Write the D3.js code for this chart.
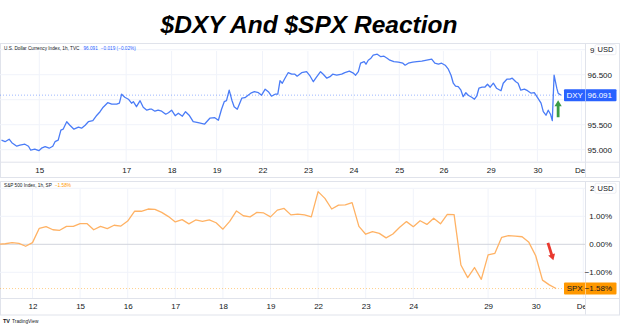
<!DOCTYPE html>
<html>
<head>
<meta charset="utf-8">
<script src="https://cdn.jsdelivr.net/npm/d3@7"></script>
<style>
  html, body { margin: 0; padding: 0; background: #fff; }
  svg { display: block; font-family: "Liberation Sans", Arial, sans-serif; }
</style>
</head>
<body>
<svg id="chart" width="620" height="327"></svg>
<script>
// ---- DXY, hourly (position in trading days since the 15th) ----
const dxyDays = [-0.84,-0.76,-0.67,-0.61,-0.50,-0.43,-0.32,-0.24,-0.19,-0.10,
  -0.01,0.05,0.13,0.22,0.30,0.35,0.42,0.48,0.53,0.61,
  0.68,0.77,0.87,0.94,1.02,1.09,1.19,1.28,1.35,1.42,
  1.52,1.61,1.72,1.78,1.83,1.90,1.98,2.05,2.09,2.16,
  2.24,2.31,2.39,2.46,2.50,2.57,2.64,2.72,2.81,2.87,
  2.94,3.02,3.09,3.18,3.25,3.33,3.42,3.53,3.67,3.72,
  3.79,3.90,3.98,4.05,4.11,4.16,4.22,4.28,4.33,4.40,
  4.50,4.57,4.64,4.70,4.78,4.87,4.94,5.02,5.09,5.16,
  5.24,5.30,5.35,5.40,5.46,5.53,5.61,5.68,5.73,5.83,
  5.94,6.02,6.09,6.16,6.25,6.31,6.39,6.46,6.52,6.61,
  6.72,6.79,6.89,6.98,7.03,7.09,7.14,7.22,7.26,7.31,
  7.37,7.42,7.51,7.59,7.66,7.73,7.79,7.88,7.98,8.08,
  8.13,8.20,8.30,8.39,8.50,8.61,8.72,8.79,8.87,8.94,
  9.02,9.09,9.15,9.20,9.25,9.31,9.37,9.42,9.48,9.53,
  9.61,9.67,9.72,9.77,9.84,9.90,9.96,10.02,10.09,10.16,
  10.26,10.31,10.39,10.46,10.51,10.59,10.64,10.70,10.78,10.85,
  10.93,11.00,11.08,11.15,11.20,11.26,11.31,11.36,11.40,11.44,
  11.50,11.53,11.59];
const dxyValues = [95.19,95.16,95.21,95.14,95.07,95.09,95.11,95.07,94.99,95.01,
  94.98,95.03,95.06,95.03,95.07,95.16,95.19,95.39,95.41,95.56,
  95.49,95.41,95.45,95.43,95.49,95.56,95.58,95.69,95.76,95.85,
  95.94,95.91,95.91,95.93,96.11,96.05,96.01,95.93,95.96,95.86,
  95.98,95.85,95.79,95.81,95.81,95.77,95.79,95.77,95.71,95.74,
  95.79,95.68,95.73,95.67,95.76,95.69,95.56,95.54,95.51,95.56,
  95.63,95.64,95.59,95.81,95.96,95.98,96.19,95.99,95.86,95.81,
  96.03,96.04,96.09,96.13,96.16,96.14,96.09,96.21,96.16,96.07,
  96.11,96.11,96.38,96.33,96.43,96.54,96.51,96.51,96.47,96.54,
  96.56,96.47,96.36,96.45,96.56,96.51,96.43,96.46,96.51,96.49,
  96.51,96.54,96.57,96.53,96.49,96.56,96.73,96.76,96.71,96.79,
  96.83,96.89,96.91,96.86,96.87,96.83,96.79,96.76,96.75,96.73,
  96.69,96.73,96.75,96.76,96.77,96.79,96.81,96.73,96.71,96.73,
  96.69,96.61,96.49,96.33,96.27,96.26,96.19,96.06,96.14,96.09,
  96.05,96.01,96.07,96.23,96.25,96.25,96.31,96.25,96.33,96.23,
  96.18,96.33,96.41,96.41,96.43,96.36,96.33,96.19,96.21,96.18,
  96.13,96.14,96.03,95.93,95.76,95.69,95.79,95.71,95.58,96.49,
  96.23,96.13,96.091];
const dxyTickDays = [0, 1.93, 2.94, 3.94, 4.96, 5.97, 6.98, 8.0, 8.98, 10.03, 11.07, 12.05];
const dxyTickLabels = ["15","17","18","19","22","23","24","25","26","29","30","Dec"];
const dxyPriceTicks = [95, 95.5, 96, 96.5, 97];
const dxyLast = 96.091;

// ---- SPX, hourly bars (bar 0 = first bar of the 12th), % change ----
const spxFirstBar = -5;
const spxValues = [0.00,0.02,0.06,0.03,-0.07,0.06,0.57,0.63,0.52,0.50,
  0.64,0.64,0.74,0.74,0.52,0.64,0.56,0.68,0.65,0.83,
  1.18,1.18,1.26,1.25,1.14,0.99,0.80,0.88,0.73,0.87,
  0.82,0.87,0.77,0.54,0.82,1.19,1.02,0.98,1.14,1.12,
  0.98,1.22,1.28,1.05,1.08,1.05,0.98,1.88,1.64,1.26,
  1.40,1.41,1.49,0.64,0.36,0.45,0.39,0.23,0.37,0.61,
  0.81,0.63,0.84,0.71,0.93,0.73,1.07,1.06,-0.74,-1.19,
  -0.83,-1.25,-0.38,-0.32,0.25,0.31,0.29,0.27,0.07,-0.41,
  -1.28,-1.45,-1.58];
const spxTickBars = [0, 7, 14, 21, 28, 35, 42, 49, 56, 67, 74, 81];
const spxTickLabels = ["12","15","16","17","18","19","22","23","24","29","30","Dec"];
const spxPctTicks = [-1, 0, 1, 2];
const spxLast = -1.58;

// ---- layout ----
const svg = d3.select("#chart");
const axisX = 585;
const paneA = { top: 43, plotBottom: 161.7, bottom: 177, labelY: 170 };
const paneB = { top: 181, plotBottom: 298, bottom: 314.5, labelY: 305.7 };
const blue = "#2962ff", lineBlue = "#4a7cf7";
const orange = "#ff9800", lineOrange = "#ffb264";
const grid = "#f0f3fa", border = "#e0e3eb", ink = "#131722";

const xDxy = d3.scaleLinear().domain([-0.873, 12.127]).range([0, axisX]);
const yDxy = d3.scaleLinear().domain([95, 97]).range([149.7, 49.7]);
const xSpx = d3.scaleLinear().domain([-32.5 / 6.8, (axisX - 32.5) / 6.8]).range([0, axisX]);
const ySpx = d3.scaleLinear().domain([-1, 2]).range([272.3, 188.3]);

svg.append("rect").attr("width", 620).attr("height", 327).attr("fill", "#fff");

// title
svg.append("text")
  .attr("x", 309).attr("y", 33)
  .attr("text-anchor", "middle")
  .attr("font-size", 24.5).attr("font-weight", "bold").attr("font-style", "italic")
  .attr("fill", "#000")
  .text("$DXY And $SPX Reaction");

const defs = svg.append("defs");
defs.append("clipPath").attr("id", "clipA").append("rect")
  .attr("x", 0).attr("y", paneA.top).attr("width", axisX).attr("height", paneA.plotBottom - paneA.top);
defs.append("clipPath").attr("id", "clipB").append("rect")
  .attr("x", 0).attr("y", paneB.top).attr("width", axisX).attr("height", paneB.plotBottom - paneB.top);
defs.append("clipPath").attr("id", "clipTime").append("rect")
  .attr("x", 0).attr("y", -20).attr("width", axisX).attr("height", 40);

function paneFrame(p) {
  const g = svg.append("g");
  g.append("rect").attr("x", 0.5).attr("y", p.top + 0.5)
    .attr("width", 619).attr("height", p.bottom - p.top)
    .attr("fill", "none").attr("stroke", border);
  g.append("line").attr("x1", 0).attr("x2", 620).attr("y1", p.plotBottom + 0.5).attr("y2", p.plotBottom + 0.5)
    .attr("stroke", border);
  g.append("line").attr("x1", axisX + 0.5).attr("x2", axisX + 0.5).attr("y1", p.top).attr("y2", p.bottom)
    .attr("stroke", border);
}

function timeAxis(scale, values, labels, y) {
  const ax = svg.append("g").attr("transform", `translate(0,${y})`)
    .attr("clip-path", "url(#clipTime)")
    .call(d3.axisBottom(scale).tickValues(values).tickFormat((d, i) => labels[i]).tickSize(0));
  ax.select(".domain").remove();
  ax.selectAll("text").attr("y", 0).attr("dy", "0.35em")
    .attr("font-size", 8).attr("fill", ink).attr("font-family", "Liberation Sans, Arial, sans-serif");
}

// price scale labels; the top one sits partly under the currency badge and the
// one nearest the last-value label is hidden by it
function priceAxis(scale, values, fmt, hiddenValue, badgeValue) {
  const shown = values.filter(v => v !== hiddenValue);
  const ax = svg.append("g").attr("transform", "translate(612,0)")
    .call(d3.axisLeft(scale).tickValues(shown)
      .tickFormat(d => d === badgeValue ? fmt(d).charAt(0) : fmt(d))
      .tickSize(0).tickPadding(0));
  ax.select(".domain").remove();
  ax.selectAll("text").attr("font-size", 8).attr("fill", ink).attr("font-family", "Liberation Sans, Arial, sans-serif");
  ax.selectAll(".tick").filter(d => d === badgeValue).select("text")
    .attr("text-anchor", "start").attr("x", -22);
}

function currencyBadge(yPos) {
  const g = svg.append("g");
  g.append("rect").attr("x", 595).attr("y", yPos - 5).attr("width", 21).attr("height", 10)
    .attr("rx", 1.5).attr("fill", "#fff").attr("stroke", border).attr("stroke-width", 0.6);
  g.append("text").attr("x", 605.5).attr("y", yPos).attr("dy", "0.35em").attr("text-anchor", "middle")
    .attr("font-size", 7.5).attr("fill", ink).text("USD");
}

function lastLabel(yPos, name, value, bg, fg) {
  const g = svg.append("g");
  g.append("rect").attr("x", 564).attr("y", yPos - 6).attr("width", 52.5).attr("height", 12)
    .attr("rx", 1).attr("fill", bg);
  g.append("line").attr("x1", 585.5).attr("x2", 585.5).attr("y1", yPos - 6).attr("y2", yPos + 6)
    .attr("stroke", "#fff").attr("stroke-opacity", 0.5);
  g.append("text").attr("x", 574.7).attr("y", yPos).attr("dy", "0.35em").attr("text-anchor", "middle")
    .attr("font-size", 8).attr("fill", fg).text(name);
  g.append("text").attr("x", 612).attr("y", yPos).attr("dy", "0.35em").attr("text-anchor", "end")
    .attr("font-size", 8).attr("fill", fg).text(value);
}

// ---------- DXY pane ----------
paneFrame(paneA);
const gA = svg.append("g");
gA.selectAll("line.vg").data(dxyTickDays).join("line")
  .attr("x1", d => xDxy(d)).attr("x2", d => xDxy(d))
  .attr("y1", paneA.top + 8).attr("y2", paneA.plotBottom)
  .attr("stroke", grid);
gA.selectAll("line.hg").data(dxyPriceTicks).join("line")
  .attr("x1", 0).attr("x2", axisX)
  .attr("y1", d => yDxy(d)).attr("y2", d => yDxy(d))
  .attr("stroke", grid);

const dxyPts = dxyDays.map((d, i) => [d, dxyValues[i]]);
gA.append("line")
  .attr("x1", 0).attr("x2", axisX)
  .attr("y1", yDxy(dxyLast)).attr("y2", yDxy(dxyLast))
  .attr("stroke", blue).attr("stroke-opacity", 0.45).attr("stroke-dasharray", "1,2");
gA.append("path")
  .attr("clip-path", "url(#clipA)")
  .attr("d", d3.line().x(d => xDxy(d[0])).y(d => yDxy(d[1]))(dxyPts))
  .attr("fill", "none").attr("stroke", lineBlue).attr("stroke-width", 1.3)
  .attr("stroke-linejoin", "round");

timeAxis(xDxy, dxyTickDays, dxyTickLabels, paneA.labelY);
priceAxis(yDxy, dxyPriceTicks, d3.format(".3f"), 96, 97);
currencyBadge(yDxy(97));
lastLabel(yDxy(dxyLast), "DXY", d3.format(".3f")(dxyLast), blue, "#fff");

const hA = svg.append("text").attr("x", 4).attr("y", 48.5).attr("dy", "0.35em").attr("font-size", 4.7);
hA.append("tspan").attr("fill", ink).text("U.S. Dollar Currency Index, 1h, TVC");
hA.append("tspan").attr("fill", blue).attr("dx", 4).text(d3.format(".3f")(dxyLast));
hA.append("tspan").attr("fill", blue).attr("dx", 3).text("\u22120.019 (\u22120.02%)");

// ---------- SPX pane ----------
paneFrame(paneB);
const gB = svg.append("g");
gB.selectAll("line.vg").data(spxTickBars).join("line")
  .attr("x1", d => xSpx(d)).attr("x2", d => xSpx(d))
  .attr("y1", paneB.top + 8).attr("y2", paneB.plotBottom)
  .attr("stroke", grid);
gB.selectAll("line.hg").data(spxPctTicks.filter(d => d !== 0)).join("line")
  .attr("x1", 0).attr("x2", axisX)
  .attr("y1", d => ySpx(d)).attr("y2", d => ySpx(d))
  .attr("stroke", grid);
gB.append("line").attr("x1", 0).attr("x2", axisX)
  .attr("y1", ySpx(0)).attr("y2", ySpx(0))
  .attr("stroke", "#d1d4dc").attr("stroke-width", 1);
gB.append("line").attr("x1", 0).attr("x2", axisX)
  .attr("y1", ySpx(spxLast)).attr("y2", ySpx(spxLast))
  .attr("stroke", orange).attr("stroke-opacity", 0.45).attr("stroke-dasharray", "1,2");

const spxPts = spxValues.map((v, i) => [spxFirstBar + i, v]);
gB.append("path")
  .attr("clip-path", "url(#clipB)")
  .attr("d", d3.line().x(d => xSpx(d[0])).y(d => ySpx(d[1]))(spxPts))
  .attr("fill", "none").attr("stroke", lineOrange).attr("stroke-width", 1.3)
  .attr("stroke-linejoin", "round");

const pctFmt = d => (d < 0 ? "\u2212" : "") + d3.format(".2f")(Math.abs(d)) + "%";
timeAxis(xSpx, spxTickBars, spxTickLabels, paneB.labelY);
priceAxis(ySpx, spxPctTicks, pctFmt, null, 2);
currencyBadge(ySpx(2));
lastLabel(ySpx(spxLast), "SPX", pctFmt(spxLast), orange, ink);

const hB = svg.append("text").attr("x", 4).attr("y", 185.7).attr("dy", "0.35em").attr("font-size", 4.7);
hB.append("tspan").attr("fill", ink).text("S&P 500 Index, 1h, SP");
hB.append("tspan").attr("fill", orange).attr("dx", 3).text(pctFmt(spxLast));

// ---------- annotation arrows ----------
function arrow(x1, y1, x2, y2, color) {
  const dx = x2 - x1, dy = y2 - y1, len = Math.hypot(dx, dy);
  const ux = dx / len, uy = dy / len, nx = -uy, ny = ux;
  const hl = 6, hw = 3.6, sw = 1.4;
  const bx = x2 - ux * hl, by = y2 - uy * hl;
  const pts = [
    [x1 + nx * sw, y1 + ny * sw], [bx + nx * sw, by + ny * sw], [bx + nx * hw, by + ny * hw],
    [x2, y2],
    [bx - nx * hw, by - ny * hw], [bx - nx * sw, by - ny * sw], [x1 - nx * sw, y1 - ny * sw]
  ];
  svg.append("path").attr("d", "M" + pts.map(p => p.join(",")).join("L") + "Z").attr("fill", color);
}
arrow(xDxy(11.53), yDxy(95.65), xDxy(11.53), yDxy(95.99), "#3b9b45");
arrow(xSpx(75.8), ySpx(0.05), xSpx(76.6), ySpx(-0.57), "#e8392f");

// ---------- footer logo ----------
const logo = svg.append("text").attr("x", 3).attr("y", 321).attr("dy", "0.35em").attr("font-size", 4.8).attr("fill", ink);
logo.append("tspan").attr("font-weight", "bold").attr("font-size", 5.5).text("TV");
logo.append("tspan").attr("dx", 2).text("TradingView");
</script>
</body>
</html>
